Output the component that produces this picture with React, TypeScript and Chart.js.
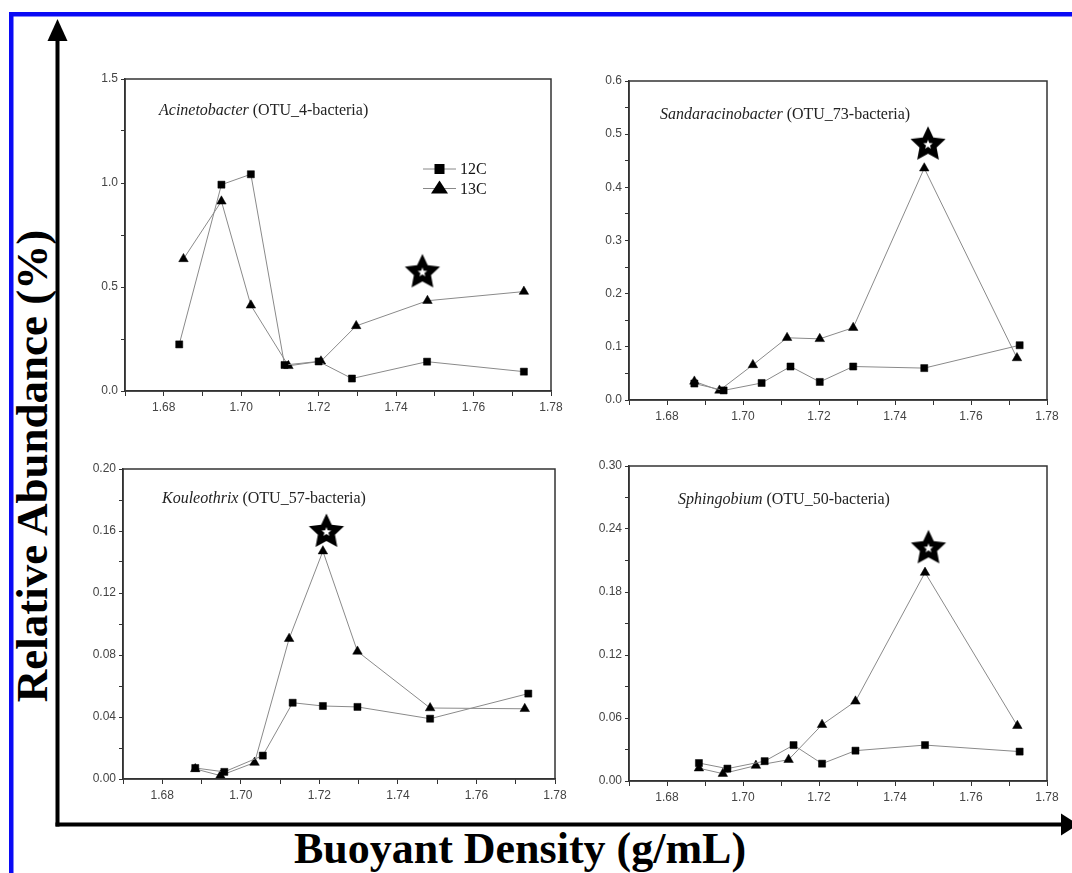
import React, { useEffect, useRef } from 'react';
import { Chart, registerables } from 'chart.js';

Chart.register(...registerables);

// ---------- data ----------
const seriesNames = ['12C', '13C'];
const xAxisMin = 1.67;
const xAxisMax = 1.78;

// Acinetobacter (OTU_4-bacteria)
const acin12cDensity = [1.684, 1.6949, 1.7025, 1.7112, 1.72, 1.7286, 1.748, 1.773];
const acin12cAbundance = [0.224, 0.992, 1.042, 0.125, 0.142, 0.06, 0.141, 0.093];
const acin13cDensity = [1.6851, 1.6949, 1.7025, 1.7122, 1.7206, 1.7297, 1.7481, 1.773];
const acin13cAbundance = [0.635, 0.912, 0.412, 0.121, 0.143, 0.313, 0.434, 0.478];
const acinStarDensity = [1.7468];
const acinStarAbundance = [0.575];

// Sandaracinobacter (OTU_73-bacteria)
const sand12cDensity = [1.6872, 1.6949, 1.7049, 1.7125, 1.7202, 1.729, 1.7477, 1.7728];
const sand12cAbundance = [0.031, 0.018, 0.032, 0.063, 0.034, 0.063, 0.06, 0.103];
const sand13cDensity = [1.6872, 1.6938, 1.7026, 1.7116, 1.7202, 1.729, 1.7477, 1.7721];
const sand13cAbundance = [0.035, 0.018, 0.066, 0.117, 0.115, 0.136, 0.436, 0.079];
const sandStarDensity = [1.7487];
const sandStarAbundance = [0.482];

// Kouleothrix (OTU_57-bacteria)
const koul12cDensity = [1.6884, 1.6958, 1.7056, 1.7132, 1.7209, 1.7297, 1.7482, 1.7732];
const koul12cAbundance = [0.0071, 0.0046, 0.0151, 0.0492, 0.0471, 0.0465, 0.0389, 0.0551];
const koul13cDensity = [1.6884, 1.6948, 1.7035, 1.7123, 1.7209, 1.7297, 1.7482, 1.7723];
const koul13cAbundance = [0.0065, 0.0022, 0.0106, 0.0905, 0.147, 0.0823, 0.0458, 0.0453];
const koulStarDensity = [1.7218];
const koulStarAbundance = [0.16];

// Sphingobium (OTU_50-bacteria)
const sphi12cDensity = [1.6884, 1.6959, 1.7057, 1.7133, 1.7208, 1.7296, 1.7479, 1.7728];
const sphi12cAbundance = [0.0171, 0.0118, 0.0189, 0.0342, 0.0165, 0.0289, 0.0342, 0.028];
const sphi13cDensity = [1.6884, 1.6947, 1.7034, 1.712, 1.7208, 1.7296, 1.7479, 1.7722];
const sphi13cAbundance = [0.0122, 0.007, 0.0147, 0.0203, 0.0536, 0.0759, 0.1985, 0.0526];
const sphiStarDensity = [1.7488];
const sphiStarAbundance = [0.2225];

// ---------- panel definitions ----------
type Box = { left: number; top: number; right: number; bottom: number };
type PanelDef = {
  genus: string;
  otu: string;
  d12: number[]; a12: number[];
  d13: number[]; a13: number[];
  sd: number[]; sa: number[];
  yMax: number; yMinor: number; yMajor: number; yDec: number;
  box: Box;
  titleDx: number; titleDy: number;
  legend: boolean;
};

const panels: PanelDef[] = [
  {
    genus: 'Acinetobacter', otu: ' (OTU_4-bacteria)',
    d12: acin12cDensity, a12: acin12cAbundance, d13: acin13cDensity, a13: acin13cAbundance,
    sd: acinStarDensity, sa: acinStarAbundance,
    yMax: 1.5, yMinor: 0.25, yMajor: 0.5, yDec: 1,
    box: { left: 125, top: 72, right: 551, bottom: 391 },
    titleDx: 34, titleDy: 32, legend: true,
  },
  {
    genus: 'Sandaracinobacter', otu: ' (OTU_73-bacteria)',
    d12: sand12cDensity, a12: sand12cAbundance, d13: sand13cDensity, a13: sand13cAbundance,
    sd: sandStarDensity, sa: sandStarAbundance,
    yMax: 0.6, yMinor: 0.05, yMajor: 0.1, yDec: 1,
    box: { left: 629, top: 74, right: 1047, bottom: 400 },
    titleDx: 31, titleDy: 34, legend: false,
  },
  {
    genus: 'Kouleothrix', otu: ' (OTU_57-bacteria)',
    d12: koul12cDensity, a12: koul12cAbundance, d13: koul13cDensity, a13: koul13cAbundance,
    sd: koulStarDensity, sa: koulStarAbundance,
    yMax: 0.2, yMinor: 0.02, yMajor: 0.04, yDec: 2,
    box: { left: 123, top: 462, right: 555, bottom: 779 },
    titleDx: 39, titleDy: 30, legend: false,
  },
  {
    genus: 'Sphingobium', otu: ' (OTU_50-bacteria)',
    d12: sphi12cDensity, a12: sphi12cAbundance, d13: sphi13cDensity, a13: sphi13cAbundance,
    sd: sphiStarDensity, sa: sphiStarAbundance,
    yMax: 0.3, yMinor: 0.03, yMajor: 0.06, yDec: 2,
    box: { left: 629, top: 459, right: 1047, bottom: 781 },
    titleDx: 49, titleDy: 34, legend: false,
  },
];

const Y_W = 50;
const X_H = 32;
const PAD_T = 12;
const PAD_R = 20;

const TICK_FONT = { family: '"Liberation Sans Narrow", "Arial Narrow", "Liberation Sans", Arial, sans-serif', size: 12 };
const AXIS_COLOR = '#333';
const SERIF = '"Liberation Serif", "Times New Roman", serif';

function makeStar(): HTMLCanvasElement {
  const c = document.createElement('canvas');
  c.width = 40;
  c.height = 40;
  const ctx = c.getContext('2d')!;
  const star = (R: number, r: number, color: string) => {
    ctx.beginPath();
    for (let i = 0; i < 10; i++) {
      const ang = -Math.PI / 2 + (i * Math.PI) / 5;
      const rad = i % 2 === 0 ? R : r;
      const x = 20 + Math.cos(ang) * rad;
      const y = 21 + Math.sin(ang) * rad;
      if (i === 0) ctx.moveTo(x, y);
      else ctx.lineTo(x, y);
    }
    ctx.closePath();
    ctx.fillStyle = color;
    ctx.fill();
  };
  star(18.5, 9, '#000');
  star(5, 2.1, '#fff');
  return c;
}

const majorLabel = (major: number, dec: number) => (v: any) => {
  const n = Number(v);
  const k = Math.round(n / major);
  return Math.abs(k * major - n) < major * 1e-6 ? n.toFixed(dec) : '';
};

const panelPlugin = {
  id: 'panelDeco',
  afterDraw(chart: any, _args: any, opts: any) {
    const { ctx, chartArea } = chart;
    ctx.save();
    // frame
    ctx.strokeStyle = AXIS_COLOR;
    ctx.lineWidth = 1.5;
    ctx.strokeRect(chartArea.left, chartArea.top, chartArea.right - chartArea.left, chartArea.bottom - chartArea.top);
    // title
    const tx = chartArea.left + opts.dx;
    const ty = chartArea.top + opts.dy;
    ctx.fillStyle = '#222';
    ctx.textBaseline = 'middle';
    ctx.font = `italic 16px ${SERIF}`;
    ctx.fillText(opts.genus, tx, ty);
    const w = ctx.measureText(opts.genus).width;
    ctx.font = `16px ${SERIF}`;
    ctx.fillText(opts.otu, tx + w, ty);
    // legend
    if (opts.legend) {
      const lx = chartArea.left + 298;
      const ly = chartArea.top + 90;
      chart.data.datasets.slice(0, 2).forEach((ds: any, i: number) => {
        const y = ly + i * 19.5;
        const cx = lx + 16.5;
        ctx.strokeStyle = '#888';
        ctx.lineWidth = 1;
        ctx.beginPath();
        ctx.moveTo(lx, y);
        ctx.lineTo(lx + 33, y);
        ctx.stroke();
        ctx.fillStyle = '#000';
        if (i === 0) {
          ctx.fillRect(cx - 5, y - 5, 10, 10);
        } else {
          ctx.beginPath();
          ctx.moveTo(cx, y - 8);
          ctx.lineTo(cx - 8.5, y + 5);
          ctx.lineTo(cx + 8.5, y + 5);
          ctx.closePath();
          ctx.fill();
        }
        ctx.fillStyle = '#111';
        ctx.font = `16px ${SERIF}`;
        ctx.textBaseline = 'middle';
        ctx.fillText(ds.label, lx + 37, y + 1);
      });
    }
    ctx.restore();
  },
};

function toPoints(xs: number[], ys: number[]) {
  return xs.map((x, i) => ({ x, y: ys[i] }));
}

function buildConfig(p: PanelDef, starImg: HTMLCanvasElement): any {
  return {
    type: 'scatter',
    data: {
      datasets: [
        {
          label: seriesNames[0],
          data: toPoints(p.d12, p.a12),
          showLine: true,
          borderColor: '#8a8a8a',
          borderWidth: 1,
          pointStyle: 'rect',
          pointRadius: 5,
          pointBackgroundColor: '#000',
          pointBorderColor: '#000',
          pointBorderWidth: 0.5,
          tension: 0,
          clip: false,
        },
        {
          label: seriesNames[1],
          data: toPoints(p.d13, p.a13),
          showLine: true,
          borderColor: '#8a8a8a',
          borderWidth: 1,
          pointStyle: 'triangle',
          pointRadius: 5.5,
          pointBackgroundColor: '#000',
          pointBorderColor: '#000',
          pointBorderWidth: 0.5,
          tension: 0,
          clip: false,
        },
        {
          label: 'star',
          data: toPoints(p.sd, p.sa),
          showLine: false,
          pointStyle: starImg,
          pointRadius: 18,
          clip: false,
        },
      ],
    },
    options: {
      responsive: false,
      animation: false,
      events: [],
      layout: { padding: { top: PAD_T, right: PAD_R, left: 0, bottom: 0 } },
      plugins: {
        legend: { display: false },
        tooltip: { enabled: false },
        panelDeco: { genus: p.genus, otu: p.otu, dx: p.titleDx, dy: p.titleDy, legend: p.legend },
      },
      scales: {
        x: {
          type: 'linear',
          min: xAxisMin,
          max: xAxisMax,
          afterFit: (s: any) => { s.height = X_H; },
          grid: { drawOnChartArea: false, drawTicks: true, tickLength: 5, color: AXIS_COLOR, lineWidth: 1 },
          border: { display: true, color: AXIS_COLOR, width: 1.5 },
          ticks: {
            stepSize: 0.01,
            autoSkip: false,
            maxRotation: 0,
            padding: 4,
            color: '#444',
            font: TICK_FONT,
            callback: majorLabel(0.02, 2),
          },
        },
        y: {
          type: 'linear',
          min: 0,
          max: p.yMax,
          afterFit: (s: any) => { s.width = Y_W; },
          grid: { drawOnChartArea: false, drawTicks: true, tickLength: 4, color: AXIS_COLOR, lineWidth: 1 },
          border: { display: true, color: AXIS_COLOR, width: 1.5 },
          ticks: {
            stepSize: p.yMinor,
            autoSkip: false,
            padding: 3,
            color: '#444',
            font: TICK_FONT,
            callback: majorLabel(p.yMajor, p.yDec),
          },
        },
      },
    },
    plugins: [panelPlugin],
  };
}

function Panel({ def }: { def: PanelDef }) {
  const ref = useRef<HTMLCanvasElement>(null);
  const w = def.box.right - def.box.left + Y_W + PAD_R;
  const h = def.box.bottom - def.box.top + PAD_T + X_H;
  const left = def.box.left - Y_W;
  const top = def.box.top - PAD_T;
  useEffect(() => {
    if (!ref.current) return;
    const chart = new Chart(ref.current, buildConfig(def, makeStar()));
    return () => chart.destroy();
  }, [def]);
  return (
    <canvas
      ref={ref}
      width={w}
      height={h}
      style={{ position: 'absolute', left, top, width: w, height: h, display: 'block' }}
    />
  );
}

export default function App() {
  return (
    <div style={{ position: 'absolute', left: 0, top: 0, width: 1072, height: 873, background: '#fff', overflow: 'hidden' }}>
      <svg width={1072} height={873} style={{ position: 'absolute', left: 0, top: 0 }}>
        <rect x={9} y={12} width={4.5} height={861} fill="#0a0af5" />
        <rect x={9} y={12} width={1063} height={4.5} fill="#0a0af5" />
        <line x1={57.5} y1={36} x2={57.5} y2={826.5} stroke="#000" strokeWidth={4} />
        <polygon points="57.5,19 47.5,41 67.5,41" fill="#000" />
        <line x1={55.5} y1={824.5} x2={1063} y2={824.5} stroke="#000" strokeWidth={4} />
        <polygon points="1061,813.5 1061,835.5 1078,824.5" fill="#000" />
        <text
          x={520}
          y={863}
          textAnchor="middle"
          fontFamily={SERIF}
          fontWeight="bold"
          fontSize={44}
          fill="#000"
        >
          Buoyant Density (g/mL)
        </text>
        <text
          transform="translate(46.5,466) rotate(-90)"
          textAnchor="middle"
          fontFamily={SERIF}
          fontWeight="bold"
          fontSize={45}
          fill="#000"
        >
          Relative Abundance (%)
        </text>
      </svg>
      {panels.map((p, i) => (
        <Panel key={i} def={p} />
      ))}
    </div>
  );
}
